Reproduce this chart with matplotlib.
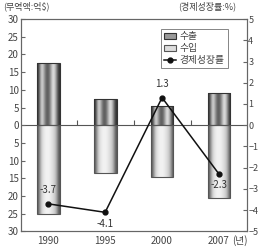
import matplotlib.pyplot as plt
import numpy as np

plt.rcParams['font.family'] = ['Noto Sans CJK KR', 'DejaVu Sans']

# Data
years = ['1990', '1995', '2000', '2007']
exports = [17.5, 7.5, 5.5, 9.0]       # 수출 (억$)
imports = [25.0, 13.5, 14.5, 20.5]    # 수입 (억$), drawn downward
growth = [-3.7, -4.1, 1.3, -2.3]      # 경제성장률 (%)

left_ticks = np.arange(-30, 31, 5)
right_ticks = np.arange(-5, 6, 1)

# gray profiles across the bar width (cylinder look)
export_shade = [0.2, 0.5, 0.85, 0.7, 0.45, 0.35, 0.45, 0.7, 0.9, 0.75, 0.45, 0.2]
import_shade = [0.35, 0.6, 0.82, 0.9, 0.94, 0.95, 0.94, 0.9, 0.85, 0.78, 0.6, 0.35]

txt = '#444444'


def shade_bars(ax, bars, profile):
    grad = np.array(profile).reshape(1, -1)
    for b in bars:
        x0, y0 = b.get_x(), b.get_y()
        w, h = b.get_width(), b.get_height()
        im = ax.imshow(grad, cmap='gray', vmin=0, vmax=1, aspect='auto',
                       extent=(x0, x0 + w, y0, y0 + h), zorder=2,
                       interpolation='bicubic')
        im.set_clip_path(b)


fig = plt.figure(figsize=(2.58, 2.47), dpi=100)
ax = fig.add_axes([0.083, 0.063, 0.874, 0.86])

x = np.arange(len(years))
bw = 0.4
b1 = ax.bar(x, exports, bw, facecolor='none', edgecolor='#333333',
            linewidth=0.8, zorder=3, label='수출')
b2 = ax.bar(x, [-v for v in imports], bw, facecolor='none',
            edgecolor='#555555', linewidth=0.8, zorder=3, label='수입')
shade_bars(ax, b1, export_shade)
shade_bars(ax, b2, import_shade)

ax.axhline(0, color='#555555', linewidth=0.8, zorder=1)
ax.vlines(x[:-1] + 0.5, 0, 1.5, color='#555555', linewidth=0.8, zorder=1)

ax.set_xlim(-0.47, 3.49)
ax.set_ylim(-30, 30)
ax.set_yticks(left_ticks)
ax.set_yticklabels([str(abs(t)) for t in left_ticks])
ax.set_xticks(x)
ax.set_xticklabels(years)
ax.tick_params(axis='y', direction='in', length=3, labelsize=7,
               labelcolor=txt, color='#666666', pad=2)
ax.tick_params(axis='x', length=0, labelsize=7, labelcolor=txt, pad=3)
for s in ax.spines.values():
    s.set_color('#666666')
    s.set_linewidth(0.8)

ax2 = ax.twinx()
ax2.set_ylim(-5, 5)
ax2.set_yticks(right_ticks)
ax2.tick_params(axis='y', direction='in', length=3, labelsize=6.5,
                labelcolor=txt, color='#666666', pad=1)
for s in ax2.spines.values():
    s.set_color('#666666')
    s.set_linewidth(0.8)
ln, = ax2.plot(x, growth, color='#111111', linewidth=1.1, marker='o',
               markersize=3.5, label='경제성장률', zorder=5)

# value labels: above for 1990 and 2000, below for 1995 and 2007
above = [True, False, True, False]
for xi, g, up in zip(x, growth, above):
    off = 0.4 if up else -0.3
    ax2.text(xi, g + off, f'{g}', ha='center',
             va='bottom' if up else 'top', fontsize=7, color='#333333',
             zorder=6)

fig.text(0.012, 0.995, '(무역액:억$)', ha='left', va='top', fontsize=6.5,
         color=txt)
fig.text(0.69, 0.995, '(경제성장률:%)', ha='left', va='top', fontsize=6.5,
         color=txt)
fig.text(0.9, 0.003, '(년)', ha='left', va='bottom', fontsize=7, color=txt)

leg = ax2.legend([b1, b2, ln], ['수출', '수입', '경제성장률'],
                 loc='upper right', bbox_to_anchor=(0.915, 0.955), fontsize=7,
                 frameon=True, fancybox=False, edgecolor='#666666',
                 borderpad=0.3, labelspacing=0.2, handlelength=1.2,
                 handletextpad=0.4, borderaxespad=0)
leg.get_frame().set_linewidth(0.7)
for t in leg.get_texts():
    t.set_color(txt)
leg.legend_handles[0].set_facecolor('#999999')
leg.legend_handles[1].set_facecolor('#dddddd')

fig.savefig('out.png', dpi=100)
